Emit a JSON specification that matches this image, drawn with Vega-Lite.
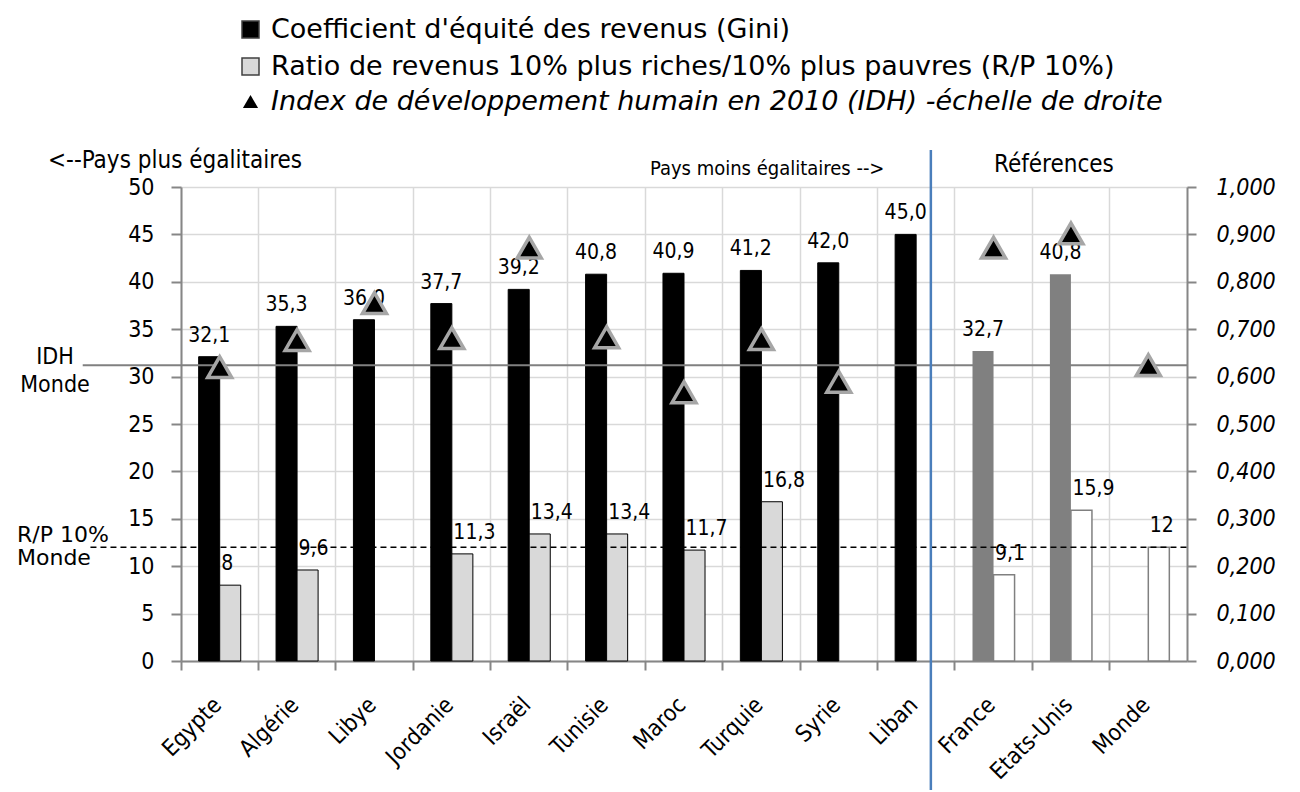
{
  "$schema": "https://vega.github.io/schema/vega-lite/v6.json",
  "width": 1006,
  "height": 474,
  "autosize": {"type": "none"},
  "padding": {"left": 181, "top": 187, "right": 113, "bottom": 131},
  "datasets": {
    "barres": [
      {"pays": "Egypte", "serie": "Gini", "valeur": 32.1, "groupe": "pays"},
      {"pays": "Egypte", "serie": "RP", "valeur": 8, "groupe": "pays"},
      {"pays": "Algérie", "serie": "Gini", "valeur": 35.3, "groupe": "pays"},
      {"pays": "Algérie", "serie": "RP", "valeur": 9.6, "groupe": "pays"},
      {"pays": "Libye", "serie": "Gini", "valeur": 36.0, "groupe": "pays"},
      {"pays": "Jordanie", "serie": "Gini", "valeur": 37.7, "groupe": "pays"},
      {"pays": "Jordanie", "serie": "RP", "valeur": 11.3, "groupe": "pays"},
      {"pays": "Israël", "serie": "Gini", "valeur": 39.2, "groupe": "pays"},
      {"pays": "Israël", "serie": "RP", "valeur": 13.4, "groupe": "pays"},
      {"pays": "Tunisie", "serie": "Gini", "valeur": 40.8, "groupe": "pays"},
      {"pays": "Tunisie", "serie": "RP", "valeur": 13.4, "groupe": "pays"},
      {"pays": "Maroc", "serie": "Gini", "valeur": 40.9, "groupe": "pays"},
      {"pays": "Maroc", "serie": "RP", "valeur": 11.7, "groupe": "pays"},
      {"pays": "Turquie", "serie": "Gini", "valeur": 41.2, "groupe": "pays"},
      {"pays": "Turquie", "serie": "RP", "valeur": 16.8, "groupe": "pays"},
      {"pays": "Syrie", "serie": "Gini", "valeur": 42.0, "groupe": "pays"},
      {"pays": "Liban", "serie": "Gini", "valeur": 45.0, "groupe": "pays"},
      {"pays": "France", "serie": "Gini", "valeur": 32.7, "groupe": "ref"},
      {"pays": "France", "serie": "RP", "valeur": 9.1, "groupe": "ref"},
      {"pays": "Etats-Unis", "serie": "Gini", "valeur": 40.8, "groupe": "ref"},
      {"pays": "Etats-Unis", "serie": "RP", "valeur": 15.9, "groupe": "ref"},
      {"pays": "Monde", "serie": "RP", "valeur": 12, "groupe": "ref"}
    ],
    "idh": [
      {"pays": "Egypte", "serie": "IDH", "idh": 0.620},
      {"pays": "Algérie", "serie": "IDH", "idh": 0.677},
      {"pays": "Libye", "serie": "IDH", "idh": 0.755},
      {"pays": "Jordanie", "serie": "IDH", "idh": 0.681},
      {"pays": "Israël", "serie": "IDH", "idh": 0.872},
      {"pays": "Tunisie", "serie": "IDH", "idh": 0.683},
      {"pays": "Maroc", "serie": "IDH", "idh": 0.567},
      {"pays": "Turquie", "serie": "IDH", "idh": 0.679},
      {"pays": "Syrie", "serie": "IDH", "idh": 0.589},
      {"pays": "France", "serie": "IDH", "idh": 0.872},
      {"pays": "Etats-Unis", "serie": "IDH", "idh": 0.902},
      {"pays": "Monde", "serie": "IDH", "idh": 0.624}
    ]
  },
  "layer": [
    {
      "layer": [
        {
          "data": {"name": "barres"},
          "transform": [{"filter": "datum.groupe === 'pays'"}],
          "mark": {"type": "bar", "stroke": "#000000", "strokeWidth": 1},
          "encoding": {
            "x": {
              "field": "pays", "type": "nominal",
              "scale": {"domain": ["Egypte", "Algérie", "Libye", "Jordanie", "Israël", "Tunisie", "Maroc", "Turquie", "Syrie", "Liban", "France", "Etats-Unis", "Monde"], "paddingInner": 0, "paddingOuter": 0},
              "axis": {
                "title": null, "bandPosition": 0, "grid": true, "gridColor": "#d9d9d9", "gridWidth": 1.5,
                "domainColor": "#868686", "domainWidth": 2, "tickColor": "#868686", "tickWidth": 2, "tickSize": 9,
                "labelAngle": -45, "labelAlign": "right", "labelBaseline": "middle", "labelOffset": -2, "labelPadding": 31,
                "labelFontSize": 23, "labelColor": "#000000", "labelLimit": 0
              }
            },
            "xOffset": {"field": "serie", "type": "nominal", "scale": {"domain": ["Gini", "RP"], "paddingInner": 0, "paddingOuter": 0.84}},
            "y": {
              "field": "valeur", "type": "quantitative",
              "scale": {"domain": [0, 50], "nice": false},
              "axis": {
                "title": null, "values": [0, 5, 10, 15, 20, 25, 30, 35, 40, 45, 50], "grid": true, "gridColor": "#d9d9d9", "gridWidth": 1.5,
                "domainColor": "#868686", "domainWidth": 2, "tickColor": "#868686", "tickWidth": 2, "tickSize": 10,
                "labelFontSize": 23, "labelColor": "#000000", "labelPadding": 17
              }
            },
            "fill": {
              "field": "serie", "type": "nominal",
              "scale": {"domain": ["Gini", "RP"], "range": ["#000000", "#d9d9d9"]},
              "legend": {
                "orient": "none", "legendX": 56, "legendY": -171, "direction": "vertical",
                "title": null, "padding": 0, "labelFont": "DejaVu Sans", "labelFontSize": 27, "labelColor": "#000000", "labelLimit": 0,
                "symbolSize": 289, "symbolType": "square", "symbolStrokeColor": "#404040", "symbolStrokeWidth": 1.5,
                "rowPadding": 9, "labelOffset": 7,
                "labelExpr": "datum.value === 'Gini' ? \"Coefficient d'équité des revenus (Gini)\" : 'Ratio de revenus 10% plus riches/10% plus pauvres (R/P 10%)'"
              }
            }
          }
        },
        {
          "data": {"name": "barres"},
          "transform": [{"filter": "datum.groupe === 'ref' && datum.serie === 'Gini'"}],
          "mark": {"type": "bar", "fill": "#808080"},
          "encoding": {
            "x": {"field": "pays", "type": "nominal"},
            "xOffset": {"field": "serie", "type": "nominal"},
            "y": {"field": "valeur", "type": "quantitative"}
          }
        },
        {
          "data": {"name": "barres"},
          "transform": [{"filter": "datum.groupe === 'ref' && datum.serie === 'RP'"}],
          "mark": {"type": "bar", "fill": "#ffffff", "stroke": "#808080", "strokeWidth": 1.5},
          "encoding": {
            "x": {"field": "pays", "type": "nominal"},
            "xOffset": {"field": "serie", "type": "nominal"},
            "y": {"field": "valeur", "type": "quantitative"}
          }
        },
        {
          "data": {"name": "barres"},
          "transform": [{"filter": "datum.serie === 'Gini'"}],
          "mark": {"type": "text", "baseline": "alphabetic", "dy": -15, "fontSize": 21, "color": "#000000"},
          "encoding": {
            "x": {"field": "pays", "type": "nominal"},
            "xOffset": {"field": "serie", "type": "nominal"},
            "y": {"field": "valeur", "type": "quantitative"},
            "text": {"field": "valeur", "type": "quantitative", "format": ".1f"}
          }
        },
        {
          "data": {"name": "barres"},
          "transform": [{"filter": "datum.serie === 'RP'"}],
          "mark": {"type": "text", "align": "left", "baseline": "alphabetic", "dx": -9, "dy": -15, "fontSize": 21, "color": "#000000"},
          "encoding": {
            "x": {"field": "pays", "type": "nominal"},
            "xOffset": {"field": "serie", "type": "nominal"},
            "y": {"field": "valeur", "type": "quantitative"},
            "text": {"field": "valeur", "type": "quantitative", "format": "~g"}
          }
        },
        {
          "data": {"values": [{}]},
          "mark": {"type": "rule", "color": "#808080", "strokeWidth": 2},
          "encoding": {
            "x": {"datum": "Egypte", "type": "nominal", "bandPosition": -1.27},
            "x2": {"datum": "Monde", "bandPosition": 1},
            "y": {"datum": 31.2, "type": "quantitative"}
          }
        },
        {
          "data": {"values": [{}]},
          "mark": {"type": "rule", "color": "#000000", "strokeWidth": 1.5, "strokeDash": [6, 4]},
          "encoding": {
            "x": {"datum": "Egypte", "type": "nominal", "bandPosition": -1.17},
            "x2": {"datum": "Monde", "bandPosition": 1},
            "y": {"datum": 12, "type": "quantitative"}
          }
        },
        {
          "data": {"values": [{}]},
          "mark": {"type": "rule", "color": "#4a7ebb", "strokeWidth": 2.5},
          "encoding": {
            "x": {"datum": "Liban", "type": "nominal", "bandPosition": 0.69},
            "y": {"datum": 53.9, "type": "quantitative"},
            "y2": {"datum": -13.6}
          }
        },
        {
          "data": {"values": [{}]},
          "mark": {"type": "text", "align": "left", "baseline": "alphabetic", "dx": -133, "fontSize": 24, "color": "#000000"},
          "encoding": {
            "x": {"datum": "Egypte", "type": "nominal", "bandPosition": 0},
            "y": {"datum": 52.0, "type": "quantitative"},
            "text": {"value": "<--Pays plus égalitaires"}
          }
        },
        {
          "data": {"values": [{}]},
          "mark": {"type": "text", "align": "right", "baseline": "alphabetic", "dx": 7, "fontSize": 20, "color": "#000000"},
          "encoding": {
            "x": {"datum": "Liban", "type": "nominal", "bandPosition": 0},
            "y": {"datum": 51.3, "type": "quantitative"},
            "text": {"value": "Pays moins égalitaires -->"}
          }
        },
        {
          "data": {"values": [{}]},
          "mark": {"type": "text", "align": "center", "baseline": "alphabetic", "fontSize": 24, "color": "#000000"},
          "encoding": {
            "x": {"datum": "Etats-Unis", "type": "nominal", "bandPosition": 0.28},
            "y": {"datum": 51.6, "type": "quantitative"},
            "text": {"value": "Références"}
          }
        },
        {
          "data": {"values": [{}]},
          "mark": {"type": "text", "align": "center", "baseline": "alphabetic", "dx": -126, "dy": -1, "fontSize": 23, "lineHeight": 28, "color": "#000000", "lineBreak": "\n"},
          "encoding": {
            "x": {"datum": "Egypte", "type": "nominal", "bandPosition": 0},
            "y": {"datum": 31.2, "type": "quantitative"},
            "text": {"value": "IDH\nMonde"}
          }
        },
        {
          "data": {"values": [{}]},
          "mark": {"type": "text", "align": "left", "baseline": "alphabetic", "dx": -164, "dy": -5, "font": "DejaVu Sans", "fontSize": 22, "lineHeight": 23, "color": "#000000", "lineBreak": "\n"},
          "encoding": {
            "x": {"datum": "Egypte", "type": "nominal", "bandPosition": 0},
            "y": {"datum": 12, "type": "quantitative"},
            "text": {"value": "R/P 10%\nMonde"}
          }
        }
      ]
    },
    {
      "data": {"name": "idh"},
      "mark": {"type": "point", "filled": true, "fill": "#000000", "stroke": "#a6a6a6", "strokeWidth": 3.5, "size": 576, "opacity": 1, "fillOpacity": 1, "strokeOpacity": 1},
      "encoding": {
        "x": {"field": "pays", "type": "nominal"},
        "y": {
          "field": "idh", "type": "quantitative",
          "scale": {"domain": [0, 1], "nice": false},
          "axis": {
            "orient": "right", "title": null, "values": [0, 0.1, 0.2, 0.3, 0.4, 0.5, 0.6, 0.7, 0.8, 0.9, 1.0], "format": ".3f", "grid": false,
            "domainColor": "#868686", "domainWidth": 2, "tickColor": "#868686", "tickWidth": 2, "tickSize": 9,
            "labelFontSize": 23, "labelFontStyle": "italic", "labelColor": "#000000", "labelPadding": 20
          }
        },
        "shape": {
          "field": "serie", "type": "nominal",
          "scale": {"domain": ["IDH"], "range": ["triangle-up"]},
          "legend": {
            "orient": "none", "legendX": 56, "legendY": -99, "direction": "vertical",
            "title": null, "padding": 0, "labelFont": "DejaVu Sans", "labelFontSize": 27, "labelFontStyle": "italic", "labelColor": "#000000", "labelLimit": 0,
            "symbolSize": 230, "symbolFillColor": "#000000", "symbolStrokeColor": "#a6a6a6", "symbolStrokeWidth": 3, "labelOffset": 7,
            "labelExpr": "'Index de développement humain en 2010 (IDH) -échelle de droite'",
            "encode": {
              "symbols": {
                "stroke": {"value": "#a6a6a6"},
                "strokeWidth": {"value": 3},
                "fill": {"value": "#000000"}
              }
            }
          }
        }
      }
    }
  ],
  "resolve": {"scale": {"y": "independent"}},
  "config": {
    "font": "DejaVu Sans Condensed, DejaVu Sans",
    "view": {"stroke": null},
    "background": "#ffffff",
    "locale": {"number": {"decimal": ",", "thousands": "\u00a0", "grouping": [3], "currency": ["", "\u00a0€"]}},
    "axis": {"labelFont": "DejaVu Sans Condensed, DejaVu Sans"},
    "text": {"font": "DejaVu Sans Condensed, DejaVu Sans"}
  }
}
